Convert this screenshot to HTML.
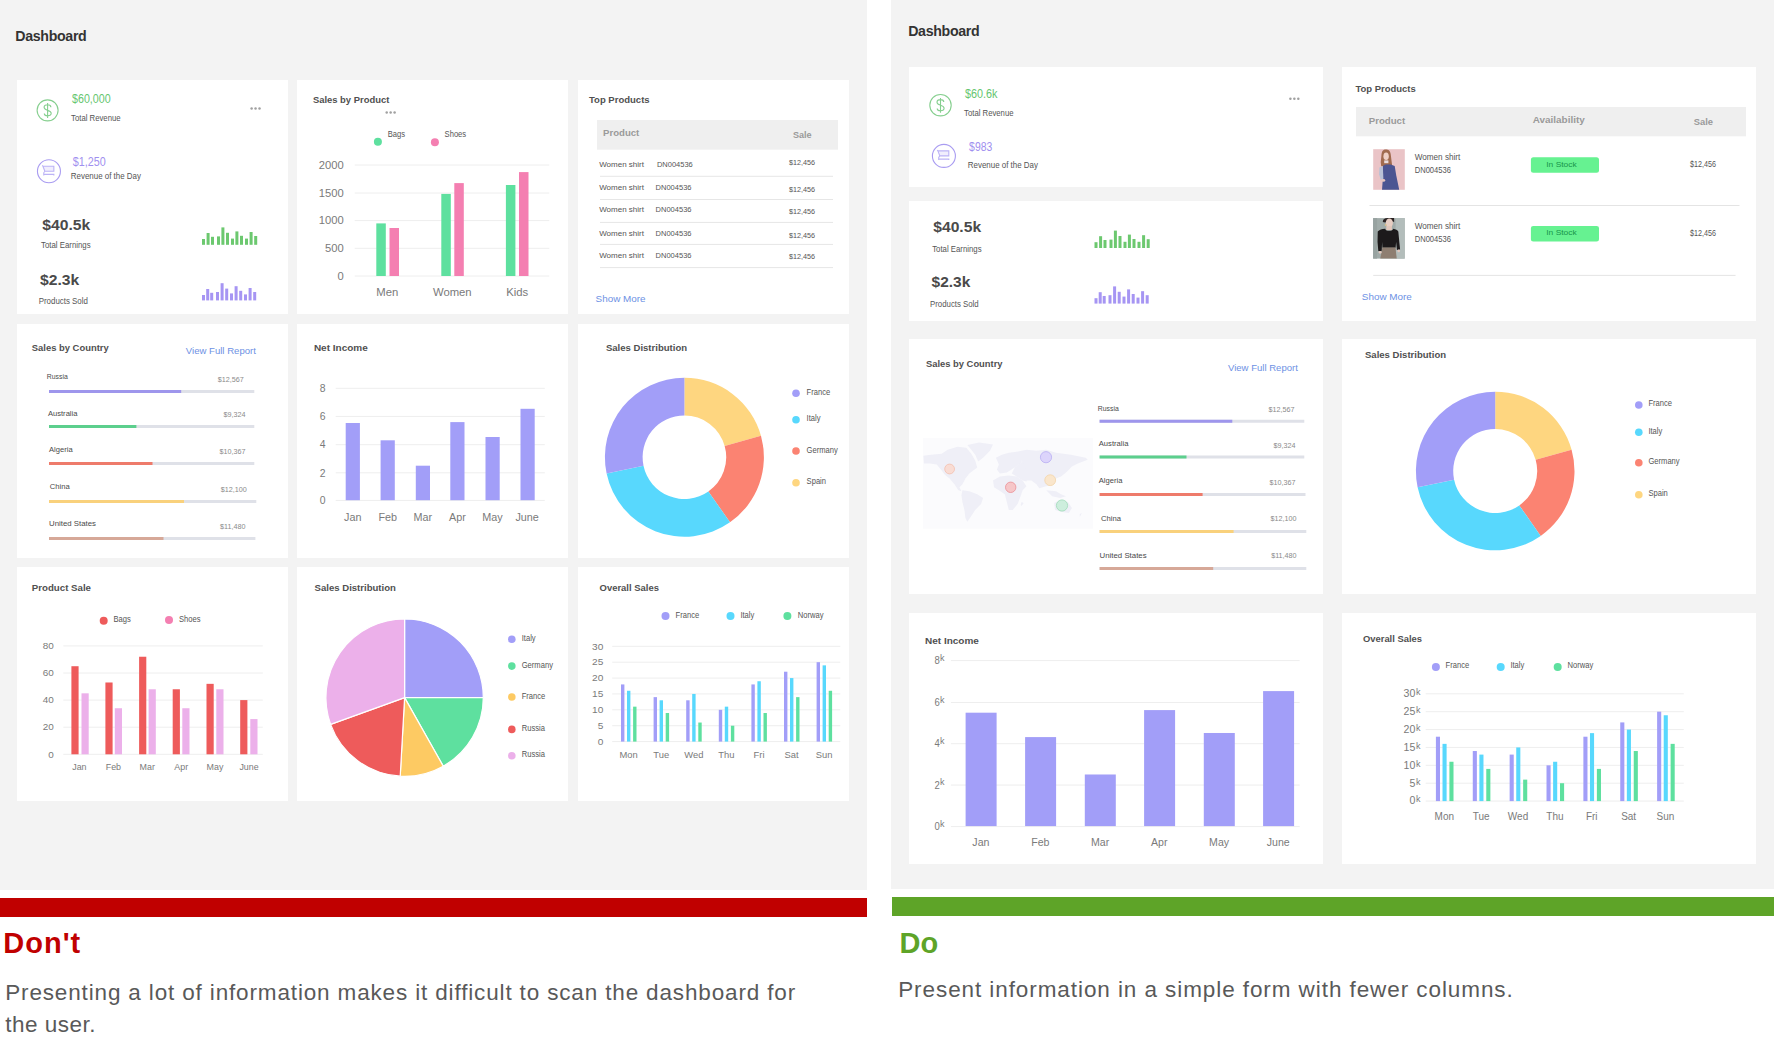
<!DOCTYPE html>
<html lang="en"><head><meta charset="utf-8"><title>Dashboard - Don't / Do</title>
<style>
*{margin:0;padding:0;box-sizing:border-box}
html,body{width:1774px;height:1062px;overflow:hidden;background:#fff}
body{position:relative;font-family:'Liberation Sans', Arial, sans-serif}
svg{display:block;overflow:hidden;font-family:'Liberation Sans', Arial, sans-serif}
.panel{position:absolute;background:#f3f3f3}
.card{position:absolute;background:#fff}
.ptitle{position:absolute;font-weight:700;color:#333;font-size:14.2px;line-height:1;letter-spacing:-0.33px;white-space:nowrap}
.bar{position:absolute;height:18px}
.verdict{position:absolute;font-weight:700;font-size:29px;line-height:1;letter-spacing:1px;white-space:nowrap}
.desc{position:absolute;color:#595959;font-size:22.5px;line-height:32.3px;letter-spacing:0.85px;white-space:nowrap}
</style></head>
<body>
<div class="panel" style="left:0;top:0;width:867px;height:889.7px"></div>
<div class="panel" style="left:891px;top:0;width:883px;height:889px"></div>
<div class="ptitle" style="left:15.3px;top:29.3px">Dashboard</div>
<div class="ptitle" style="left:908.2px;top:24.3px">Dashboard</div>
<div class="card" style="left:17px;top:80px;width:271.0px;height:234.0px"><svg width="271.0" height="234.0" viewBox="17 80 271.0 234.0"><circle cx="47.60" cy="110.35" r="10.50" fill="none" stroke="#86cf8f" stroke-width="1.1"/><path transform="translate(47.60,110.35)" d="M3.3,-3.2 C3.3,-5 1.8,-5.6 0,-5.6 C-2,-5.6 -3.5,-4.6 -3.5,-3 C-3.5,-1 -1.5,-0.5 0,0 C2,0.6 3.6,1.2 3.6,3 C3.6,4.7 2,5.5 0,5.5 C-1.8,5.5 -3.3,4.8 -3.3,3.2 M0,-7.3 L0,7.6" fill="none" stroke="#86cf8f" stroke-width="1.1"/><text x="72.00" y="103.00" font-size="12.4" fill="#66c66f" textLength="38.6" lengthAdjust="spacingAndGlyphs">$60,000</text><text x="71.10" y="121.00" font-size="8.7" fill="#555555" textLength="49.5" lengthAdjust="spacingAndGlyphs">Total Revenue</text><circle cx="251.60" cy="108.50" r="1.25" fill="#a0a0a0"/><circle cx="255.55" cy="108.50" r="1.25" fill="#a0a0a0"/><circle cx="259.50" cy="108.50" r="1.25" fill="#a0a0a0"/><circle cx="48.95" cy="171.20" r="11.50" fill="none" stroke="#a99cf1" stroke-width="1.1"/><g transform="translate(48.95,171.20)"><path d="M-6,-5 L4.9,-5 L4.9,0 L-4.1,0 Z" fill="#f1eefd"/><path d="M-6.7,-5.8 L-6.0,-5.0 L4.9,-5.0 L4.9,0 L-4.0,0 M-6.0,-5.0 L-4.1,0 L-5.2,1.6 L-5.2,4.2 M-5.2,3.2 L4.9,3.2 L4.9,4.2" fill="none" stroke="#bcb3f6" stroke-width="1.1"/></g><text x="72.80" y="166.20" font-size="12.4" fill="#9f90ef" textLength="33" lengthAdjust="spacingAndGlyphs">$1,250</text><text x="70.80" y="178.90" font-size="8.7" fill="#555555" textLength="70.2" lengthAdjust="spacingAndGlyphs">Revenue of the Day</text><text x="42.30" y="229.50" font-size="15.4" fill="#4a4a4a" font-weight="700" textLength="48" lengthAdjust="spacingAndGlyphs">$40.5k</text><text x="41.00" y="247.80" font-size="8.7" fill="#555555" textLength="49.6" lengthAdjust="spacingAndGlyphs">Total Earnings</text><rect x="202.00" y="239.00" width="3.00" height="5.80" fill="#6cc86f"/><rect x="206.60" y="233.00" width="3.00" height="11.80" fill="#6cc86f"/><rect x="211.00" y="236.80" width="3.00" height="8.00" fill="#6cc86f"/><rect x="217.00" y="236.40" width="3.00" height="8.40" fill="#6cc86f"/><rect x="221.40" y="227.40" width="3.00" height="17.40" fill="#6cc86f"/><rect x="226.00" y="232.80" width="3.00" height="12.00" fill="#6cc86f"/><rect x="231.00" y="238.60" width="3.00" height="6.20" fill="#6cc86f"/><rect x="235.40" y="231.40" width="3.00" height="13.40" fill="#6cc86f"/><rect x="240.00" y="235.80" width="3.00" height="9.00" fill="#6cc86f"/><rect x="245.00" y="238.60" width="3.00" height="6.20" fill="#6cc86f"/><rect x="249.60" y="232.00" width="3.00" height="12.80" fill="#6cc86f"/><rect x="254.20" y="236.00" width="3.00" height="8.80" fill="#6cc86f"/><text x="40.00" y="284.90" font-size="15.4" fill="#4a4a4a" font-weight="700" textLength="39.2" lengthAdjust="spacingAndGlyphs">$2.3k</text><text x="38.70" y="303.90" font-size="8.7" fill="#555555" textLength="49.2" lengthAdjust="spacingAndGlyphs">Products Sold</text><rect x="202.00" y="295.00" width="3.00" height="5.40" fill="#a695f3"/><rect x="206.20" y="289.00" width="3.00" height="11.40" fill="#a695f3"/><rect x="210.20" y="292.80" width="3.00" height="7.60" fill="#a695f3"/><rect x="216.00" y="292.00" width="3.00" height="8.40" fill="#a695f3"/><rect x="220.60" y="283.20" width="3.00" height="17.20" fill="#a695f3"/><rect x="225.20" y="288.60" width="3.00" height="11.80" fill="#a695f3"/><rect x="230.00" y="293.40" width="3.00" height="7.00" fill="#a695f3"/><rect x="234.60" y="286.20" width="3.00" height="14.20" fill="#a695f3"/><rect x="239.20" y="290.80" width="3.00" height="9.60" fill="#a695f3"/><rect x="244.00" y="294.40" width="3.00" height="6.00" fill="#a695f3"/><rect x="248.60" y="288.00" width="3.00" height="12.40" fill="#a695f3"/><rect x="253.20" y="292.00" width="3.00" height="8.40" fill="#a695f3"/></svg></div>
<div class="card" style="left:297px;top:80px;width:271.0px;height:234.0px"><svg width="271.0" height="234.0" viewBox="297 80 271.0 234.0"><text x="312.90" y="102.90" font-size="9.4" fill="#505050" font-weight="700" textLength="76.4" lengthAdjust="spacingAndGlyphs">Sales by Product</text><circle cx="386.70" cy="112.50" r="1.25" fill="#a0a0a0"/><circle cx="390.65" cy="112.50" r="1.25" fill="#a0a0a0"/><circle cx="394.60" cy="112.50" r="1.25" fill="#a0a0a0"/><circle cx="377.90" cy="141.70" r="4.00" fill="#5ee09f"/><text x="387.80" y="136.80" font-size="8.2" fill="#555555" textLength="17.3220625" lengthAdjust="spacingAndGlyphs">Bags</text><circle cx="434.90" cy="142.30" r="4.00" fill="#f47fb1"/><text x="444.60" y="137.40" font-size="8.2" fill="#555555" textLength="21.548375" lengthAdjust="spacingAndGlyphs">Shoes</text><line x1="354.70" y1="165.00" x2="549.30" y2="165.00" stroke="#eeeeee" stroke-width="1"/><text x="343.70" y="168.70" font-size="10.2" fill="#7a7a7a" text-anchor="end" textLength="24.96" lengthAdjust="spacingAndGlyphs">2000</text><line x1="354.70" y1="193.00" x2="549.30" y2="193.00" stroke="#eeeeee" stroke-width="1"/><text x="343.70" y="196.70" font-size="10.2" fill="#7a7a7a" text-anchor="end" textLength="24.96" lengthAdjust="spacingAndGlyphs">1500</text><line x1="354.70" y1="220.60" x2="549.30" y2="220.60" stroke="#eeeeee" stroke-width="1"/><text x="343.70" y="224.30" font-size="10.2" fill="#7a7a7a" text-anchor="end" textLength="24.96" lengthAdjust="spacingAndGlyphs">1000</text><line x1="354.70" y1="248.30" x2="549.30" y2="248.30" stroke="#eeeeee" stroke-width="1"/><text x="343.70" y="252.00" font-size="10.2" fill="#7a7a7a" text-anchor="end" textLength="18.72" lengthAdjust="spacingAndGlyphs">500</text><line x1="354.70" y1="276.00" x2="549.30" y2="276.00" stroke="#eeeeee" stroke-width="1"/><text x="343.70" y="279.70" font-size="10.2" fill="#7a7a7a" text-anchor="end" textLength="6.24" lengthAdjust="spacingAndGlyphs">0</text><rect x="376.30" y="223.40" width="9.50" height="52.60" fill="#5ee09f"/><rect x="389.50" y="228.00" width="9.50" height="48.00" fill="#f47fb1"/><rect x="441.30" y="193.90" width="9.50" height="82.10" fill="#5ee09f"/><rect x="454.30" y="183.10" width="9.50" height="92.90" fill="#f47fb1"/><rect x="505.90" y="185.00" width="9.50" height="91.00" fill="#5ee09f"/><rect x="519.00" y="172.10" width="9.50" height="103.90" fill="#f47fb1"/><text x="387.30" y="296.30" font-size="11.3" fill="#7a7a7a" text-anchor="middle">Men</text><text x="452.30" y="296.30" font-size="11.3" fill="#7a7a7a" text-anchor="middle">Women</text><text x="517.30" y="296.30" font-size="11.3" fill="#7a7a7a" text-anchor="middle">Kids</text></svg></div>
<div class="card" style="left:578px;top:80px;width:271.0px;height:234.0px"><svg width="271.0" height="234.0" viewBox="578 80 271.0 234.0"><text x="589.00" y="102.90" font-size="9.4" fill="#505050" font-weight="700" textLength="60.6" lengthAdjust="spacingAndGlyphs">Top Products</text><rect x="597.00" y="120.00" width="241.00" height="29.70" fill="#efefef"/><text x="603.00" y="135.90" font-size="9.4" fill="#9a9a9a" font-weight="700" textLength="36.3" lengthAdjust="spacingAndGlyphs">Product</text><text x="792.90" y="137.80" font-size="9.4" fill="#9a9a9a" font-weight="700" textLength="18.7" lengthAdjust="spacingAndGlyphs">Sale</text><text x="599.20" y="166.80" font-size="7.8" fill="#555" textLength="44.8" lengthAdjust="spacingAndGlyphs">Women shirt</text><text x="656.90" y="166.80" font-size="7.8" fill="#555" textLength="35.9" lengthAdjust="spacingAndGlyphs">DN004536</text><text x="789.00" y="165.00" font-size="7.8" fill="#555" textLength="26" lengthAdjust="spacingAndGlyphs">$12,456</text><line x1="600.00" y1="176.30" x2="833.00" y2="176.30" stroke="#e6e6e6" stroke-width="1"/><text x="599.20" y="189.90" font-size="7.8" fill="#555" textLength="44.8" lengthAdjust="spacingAndGlyphs">Women shirt</text><text x="655.60" y="189.90" font-size="7.8" fill="#555" textLength="35.9" lengthAdjust="spacingAndGlyphs">DN004536</text><text x="789.00" y="191.70" font-size="7.8" fill="#555" textLength="26" lengthAdjust="spacingAndGlyphs">$12,456</text><line x1="600.00" y1="199.50" x2="833.00" y2="199.50" stroke="#e6e6e6" stroke-width="1"/><text x="599.20" y="212.00" font-size="7.8" fill="#555" textLength="44.8" lengthAdjust="spacingAndGlyphs">Women shirt</text><text x="655.60" y="212.00" font-size="7.8" fill="#555" textLength="35.9" lengthAdjust="spacingAndGlyphs">DN004536</text><text x="789.00" y="213.70" font-size="7.8" fill="#555" textLength="26" lengthAdjust="spacingAndGlyphs">$12,456</text><line x1="600.00" y1="222.40" x2="833.00" y2="222.40" stroke="#e6e6e6" stroke-width="1"/><text x="599.20" y="235.80" font-size="7.8" fill="#555" textLength="44.8" lengthAdjust="spacingAndGlyphs">Women shirt</text><text x="655.60" y="235.80" font-size="7.8" fill="#555" textLength="35.9" lengthAdjust="spacingAndGlyphs">DN004536</text><text x="789.00" y="237.60" font-size="7.8" fill="#555" textLength="26" lengthAdjust="spacingAndGlyphs">$12,456</text><line x1="600.00" y1="244.40" x2="833.00" y2="244.40" stroke="#e6e6e6" stroke-width="1"/><text x="599.20" y="257.80" font-size="7.8" fill="#555" textLength="44.8" lengthAdjust="spacingAndGlyphs">Women shirt</text><text x="655.60" y="257.80" font-size="7.8" fill="#555" textLength="35.9" lengthAdjust="spacingAndGlyphs">DN004536</text><text x="789.00" y="258.70" font-size="7.8" fill="#555" textLength="26" lengthAdjust="spacingAndGlyphs">$12,456</text><line x1="600.00" y1="267.60" x2="833.00" y2="267.60" stroke="#e6e6e6" stroke-width="1"/><text x="595.60" y="302.20" font-size="9.4" fill="#6d91e4" textLength="50" lengthAdjust="spacingAndGlyphs">Show More</text></svg></div>
<div class="card" style="left:17px;top:324px;width:271.0px;height:234.0px"><svg width="271.0" height="234.0" viewBox="17 324 271.0 234.0"><text x="31.80" y="351.00" font-size="9.4" fill="#505050" font-weight="700" textLength="76.9" lengthAdjust="spacingAndGlyphs">Sales by Country</text><text x="185.80" y="353.60" font-size="9.4" fill="#6d91e4" textLength="70.1" lengthAdjust="spacingAndGlyphs">View Full Report</text><text x="46.80" y="379.30" font-size="8.1" fill="#4a4a4a" textLength="21.0" lengthAdjust="spacingAndGlyphs">Russia</text><text x="243.70" y="381.50" font-size="7.2" fill="#8a8a8a" text-anchor="end">$12,567</text><line x1="49.00" y1="391.50" x2="254.30" y2="391.50" stroke="#dfe1e8" stroke-width="3"/><line x1="49.00" y1="391.50" x2="181.20" y2="391.50" stroke="#9e96ec" stroke-width="3"/><text x="47.90" y="415.50" font-size="8.1" fill="#4a4a4a" textLength="29.6" lengthAdjust="spacingAndGlyphs">Australia</text><text x="245.50" y="416.60" font-size="7.2" fill="#8a8a8a" text-anchor="end">$9,324</text><line x1="49.00" y1="426.50" x2="254.30" y2="426.50" stroke="#dfe1e8" stroke-width="3"/><line x1="49.00" y1="426.50" x2="136.40" y2="426.50" stroke="#5ccf8d" stroke-width="3"/><text x="49.00" y="452.20" font-size="8.1" fill="#4a4a4a" textLength="23.6" lengthAdjust="spacingAndGlyphs">Algeria</text><text x="245.50" y="453.90" font-size="7.2" fill="#8a8a8a" text-anchor="end">$10,367</text><line x1="49.00" y1="463.50" x2="254.30" y2="463.50" stroke="#dfe1e8" stroke-width="3"/><line x1="49.00" y1="463.50" x2="152.50" y2="463.50" stroke="#ee7b6b" stroke-width="3"/><text x="49.80" y="488.90" font-size="8.1" fill="#4a4a4a" textLength="20.0" lengthAdjust="spacingAndGlyphs">China</text><text x="246.70" y="491.80" font-size="7.2" fill="#8a8a8a" text-anchor="end">$12,100</text><line x1="49.00" y1="501.40" x2="256.30" y2="501.40" stroke="#dfe1e8" stroke-width="3"/><line x1="49.00" y1="501.40" x2="184.00" y2="501.40" stroke="#f9d17c" stroke-width="3"/><text x="49.00" y="525.70" font-size="8.1" fill="#4a4a4a" textLength="47.0" lengthAdjust="spacingAndGlyphs">United States</text><text x="245.50" y="528.60" font-size="7.2" fill="#8a8a8a" text-anchor="end">$11,480</text><line x1="49.00" y1="538.60" x2="255.40" y2="538.60" stroke="#dfe1e8" stroke-width="3"/><line x1="49.00" y1="538.60" x2="163.50" y2="538.60" stroke="#d6a898" stroke-width="3"/></svg></div>
<div class="card" style="left:297px;top:324px;width:271.0px;height:234.0px"><svg width="271.0" height="234.0" viewBox="297 324 271.0 234.0"><text x="313.90" y="351.00" font-size="9.4" fill="#505050" font-weight="700" textLength="53.9" lengthAdjust="spacingAndGlyphs">Net Income</text><line x1="335.70" y1="388.30" x2="544.80" y2="388.30" stroke="#eeeeee" stroke-width="1"/><text x="325.50" y="392.00" font-size="10.4" fill="#7a7a7a" text-anchor="end">8</text><line x1="335.70" y1="416.40" x2="544.80" y2="416.40" stroke="#eeeeee" stroke-width="1"/><text x="325.50" y="420.10" font-size="10.4" fill="#7a7a7a" text-anchor="end">6</text><line x1="335.70" y1="444.70" x2="544.80" y2="444.70" stroke="#eeeeee" stroke-width="1"/><text x="325.50" y="448.40" font-size="10.4" fill="#7a7a7a" text-anchor="end">4</text><line x1="335.70" y1="472.80" x2="544.80" y2="472.80" stroke="#eeeeee" stroke-width="1"/><text x="325.50" y="476.50" font-size="10.4" fill="#7a7a7a" text-anchor="end">2</text><line x1="335.70" y1="500.40" x2="544.80" y2="500.40" stroke="#eeeeee" stroke-width="1"/><text x="325.50" y="504.10" font-size="10.4" fill="#7a7a7a" text-anchor="end">0</text><rect x="345.70" y="423.00" width="14.20" height="77.20" fill="#a29ef8"/><text x="352.80" y="520.90" font-size="10.8" fill="#7a7a7a" text-anchor="middle">Jan</text><rect x="380.60" y="440.30" width="14.20" height="59.90" fill="#a29ef8"/><text x="387.70" y="520.90" font-size="10.8" fill="#7a7a7a" text-anchor="middle">Feb</text><rect x="415.80" y="465.70" width="14.20" height="34.50" fill="#a29ef8"/><text x="422.70" y="520.90" font-size="10.8" fill="#7a7a7a" text-anchor="middle">Mar</text><rect x="450.30" y="422.10" width="14.20" height="78.10" fill="#a29ef8"/><text x="457.40" y="520.90" font-size="10.8" fill="#7a7a7a" text-anchor="middle">Apr</text><rect x="485.50" y="437.00" width="14.20" height="63.20" fill="#a29ef8"/><text x="492.40" y="520.90" font-size="10.8" fill="#7a7a7a" text-anchor="middle">May</text><rect x="520.50" y="408.80" width="14.20" height="91.40" fill="#a29ef8"/><text x="527.10" y="520.90" font-size="10.8" fill="#7a7a7a" text-anchor="middle">June</text></svg></div>
<div class="card" style="left:578px;top:324px;width:271.0px;height:234.0px"><svg width="271.0" height="234.0" viewBox="578 324 271.0 234.0"><text x="605.90" y="351.00" font-size="9.4" fill="#505050" font-weight="700" textLength="81.2" lengthAdjust="spacingAndGlyphs">Sales Distribution</text><path d="M684.40,377.70 A79.5,79.5 0 0 1 760.97,435.82 L724.66,445.96 A41.8,41.8 0 0 0 684.40,415.40 Z" fill="#fed680"/><path d="M760.97,435.82 A79.5,79.5 0 0 1 730.00,522.32 L708.38,491.44 A41.8,41.8 0 0 0 724.66,445.96 Z" fill="#fb8372"/><path d="M730.00,522.32 A79.5,79.5 0 0 1 606.61,473.59 L643.50,465.82 A41.8,41.8 0 0 0 708.38,491.44 Z" fill="#58d8fd"/><path d="M606.61,473.59 A79.5,79.5 0 0 1 684.40,377.70 L684.40,415.40 A41.8,41.8 0 0 0 643.50,465.82 Z" fill="#a29ef8"/><circle cx="796.00" cy="393.20" r="3.80" fill="#a29ef8"/><text x="806.60" y="394.70" font-size="8.2" fill="#555555" textLength="23.651437499999997" lengthAdjust="spacingAndGlyphs">France</text><circle cx="796.00" cy="419.70" r="3.80" fill="#58d8fd"/><text x="806.60" y="421.20" font-size="8.2" fill="#555555" textLength="13.9376875" lengthAdjust="spacingAndGlyphs">Italy</text><circle cx="796.00" cy="451.00" r="3.80" fill="#fb8372"/><text x="806.60" y="452.50" font-size="8.2" fill="#555555" textLength="31.251437499999998" lengthAdjust="spacingAndGlyphs">Germany</text><circle cx="796.00" cy="482.80" r="3.80" fill="#fed680"/><text x="806.60" y="484.30" font-size="8.2" fill="#555555" textLength="19.436999999999998" lengthAdjust="spacingAndGlyphs">Spain</text></svg></div>
<div class="card" style="left:17px;top:567px;width:271.0px;height:234.0px"><svg width="271.0" height="234.0" viewBox="17 567 271.0 234.0"><text x="31.80" y="590.90" font-size="9.4" fill="#505050" font-weight="700" textLength="59.2" lengthAdjust="spacingAndGlyphs">Product Sale</text><circle cx="103.70" cy="620.80" r="4.00" fill="#ee5b5b"/><text x="113.40" y="621.80" font-size="8.2" fill="#555555" textLength="17.3220625" lengthAdjust="spacingAndGlyphs">Bags</text><circle cx="169.00" cy="619.90" r="4.00" fill="#f47fb1"/><text x="178.90" y="621.80" font-size="8.2" fill="#555555" textLength="21.548375" lengthAdjust="spacingAndGlyphs">Shoes</text><line x1="63.30" y1="645.90" x2="262.80" y2="645.90" stroke="#eeeeee" stroke-width="1"/><text x="53.90" y="649.10" font-size="9.2" fill="#7a7a7a" text-anchor="end" textLength="11.05" lengthAdjust="spacingAndGlyphs">80</text><line x1="63.30" y1="673.00" x2="262.80" y2="673.00" stroke="#eeeeee" stroke-width="1"/><text x="53.90" y="676.20" font-size="9.2" fill="#7a7a7a" text-anchor="end" textLength="11.05" lengthAdjust="spacingAndGlyphs">60</text><line x1="63.30" y1="700.10" x2="262.80" y2="700.10" stroke="#eeeeee" stroke-width="1"/><text x="53.90" y="703.30" font-size="9.2" fill="#7a7a7a" text-anchor="end" textLength="11.05" lengthAdjust="spacingAndGlyphs">40</text><line x1="63.30" y1="727.20" x2="262.80" y2="727.20" stroke="#eeeeee" stroke-width="1"/><text x="53.90" y="730.40" font-size="9.2" fill="#7a7a7a" text-anchor="end" textLength="11.05" lengthAdjust="spacingAndGlyphs">20</text><line x1="63.30" y1="754.30" x2="262.80" y2="754.30" stroke="#eeeeee" stroke-width="1"/><text x="53.90" y="757.50" font-size="9.2" fill="#7a7a7a" text-anchor="end" textLength="5.53" lengthAdjust="spacingAndGlyphs">0</text><rect x="71.40" y="666.22" width="7.20" height="88.07" fill="#ee5b5b"/><rect x="81.50" y="693.32" width="7.20" height="60.97" fill="#ecb0ea"/><text x="79.40" y="770.40" font-size="8.9" fill="#7a7a7a" text-anchor="middle">Jan</text><rect x="105.40" y="682.49" width="7.20" height="71.81" fill="#ee5b5b"/><rect x="114.80" y="708.23" width="7.20" height="46.07" fill="#ecb0ea"/><text x="113.40" y="770.40" font-size="8.9" fill="#7a7a7a" text-anchor="middle">Feb</text><rect x="139.10" y="656.74" width="7.20" height="97.56" fill="#ee5b5b"/><rect x="148.60" y="689.26" width="7.20" height="65.04" fill="#ecb0ea"/><text x="147.20" y="770.40" font-size="8.9" fill="#7a7a7a" text-anchor="middle">Mar</text><rect x="172.70" y="689.26" width="7.20" height="65.04" fill="#ee5b5b"/><rect x="182.30" y="708.23" width="7.20" height="46.07" fill="#ecb0ea"/><text x="181.20" y="770.40" font-size="8.9" fill="#7a7a7a" text-anchor="middle">Apr</text><rect x="206.50" y="683.84" width="7.20" height="70.46" fill="#ee5b5b"/><rect x="216.30" y="689.26" width="7.20" height="65.04" fill="#ecb0ea"/><text x="215.00" y="770.40" font-size="8.9" fill="#7a7a7a" text-anchor="middle">May</text><rect x="240.20" y="700.10" width="7.20" height="54.20" fill="#ee5b5b"/><rect x="250.30" y="719.07" width="7.20" height="35.23" fill="#ecb0ea"/><text x="249.00" y="770.40" font-size="8.9" fill="#7a7a7a" text-anchor="middle">June</text></svg></div>
<div class="card" style="left:297px;top:567px;width:271.0px;height:234.0px"><svg width="271.0" height="234.0" viewBox="297 567 271.0 234.0"><text x="314.60" y="590.90" font-size="9.4" fill="#505050" font-weight="700" textLength="81.3" lengthAdjust="spacingAndGlyphs">Sales Distribution</text><path d="M404.60,697.60 L404.60,618.90 A78.7,78.7 0 0 1 483.30,697.60 Z" fill="#a29ef8" stroke="#fff" stroke-width="1.2" stroke-linejoin="round"/><path d="M404.60,697.60 L483.30,697.60 A78.7,78.7 0 0 1 443.23,766.16 Z" fill="#5ee09f" stroke="#fff" stroke-width="1.2" stroke-linejoin="round"/><path d="M404.60,697.60 L443.23,766.16 A78.7,78.7 0 0 1 400.21,776.18 Z" fill="#fdca63" stroke="#fff" stroke-width="1.2" stroke-linejoin="round"/><path d="M404.60,697.60 L400.21,776.18 A78.7,78.7 0 0 1 330.60,724.39 Z" fill="#ee5b5b" stroke="#fff" stroke-width="1.2" stroke-linejoin="round"/><path d="M404.60,697.60 L330.60,724.39 A78.7,78.7 0 0 1 404.60,618.90 Z" fill="#ecb0ea" stroke="#fff" stroke-width="1.2" stroke-linejoin="round"/><circle cx="511.80" cy="639.30" r="3.80" fill="#a29ef8"/><text x="521.70" y="640.80" font-size="8.2" fill="#555555" textLength="13.9376875" lengthAdjust="spacingAndGlyphs">Italy</text><circle cx="511.80" cy="666.10" r="3.80" fill="#5ee09f"/><text x="521.70" y="667.60" font-size="8.2" fill="#555555" textLength="31.251437499999998" lengthAdjust="spacingAndGlyphs">Germany</text><circle cx="511.80" cy="697.00" r="3.80" fill="#fdca63"/><text x="521.70" y="698.50" font-size="8.2" fill="#555555" textLength="23.651437499999997" lengthAdjust="spacingAndGlyphs">France</text><circle cx="511.80" cy="729.40" r="3.80" fill="#ee5b5b"/><text x="521.70" y="730.90" font-size="8.2" fill="#555555" textLength="23.229874999999996" lengthAdjust="spacingAndGlyphs">Russia</text><circle cx="511.80" cy="755.80" r="3.80" fill="#ecb0ea"/><text x="521.70" y="757.30" font-size="8.2" fill="#555555" textLength="23.229874999999996" lengthAdjust="spacingAndGlyphs">Russia</text></svg></div>
<div class="card" style="left:578px;top:567px;width:271.0px;height:234.0px"><svg width="271.0" height="234.0" viewBox="578 567 271.0 234.0"><text x="599.60" y="590.90" font-size="9.4" fill="#505050" font-weight="700" textLength="59.3" lengthAdjust="spacingAndGlyphs">Overall Sales</text><circle cx="665.50" cy="615.90" r="4.00" fill="#a29ef8"/><text x="675.60" y="617.90" font-size="8.2" fill="#555555" textLength="23.651437499999997" lengthAdjust="spacingAndGlyphs">France</text><circle cx="730.50" cy="615.90" r="4.00" fill="#58d8fd"/><text x="740.40" y="617.90" font-size="8.2" fill="#555555" textLength="13.9376875" lengthAdjust="spacingAndGlyphs">Italy</text><circle cx="787.40" cy="615.90" r="4.00" fill="#5ee09f"/><text x="797.70" y="617.90" font-size="8.2" fill="#555555" textLength="25.7604375" lengthAdjust="spacingAndGlyphs">Norway</text><line x1="612.20" y1="646.30" x2="840.30" y2="646.30" stroke="#eeeeee" stroke-width="1"/><text x="603.40" y="649.60" font-size="9.2" fill="#7a7a7a" text-anchor="end" textLength="11.26" lengthAdjust="spacingAndGlyphs">30</text><line x1="612.20" y1="662.18" x2="840.30" y2="662.18" stroke="#eeeeee" stroke-width="1"/><text x="603.40" y="665.48" font-size="9.2" fill="#7a7a7a" text-anchor="end" textLength="11.26" lengthAdjust="spacingAndGlyphs">25</text><line x1="612.20" y1="678.07" x2="840.30" y2="678.07" stroke="#eeeeee" stroke-width="1"/><text x="603.40" y="681.37" font-size="9.2" fill="#7a7a7a" text-anchor="end" textLength="11.26" lengthAdjust="spacingAndGlyphs">20</text><line x1="612.20" y1="693.95" x2="840.30" y2="693.95" stroke="#eeeeee" stroke-width="1"/><text x="603.40" y="697.25" font-size="9.2" fill="#7a7a7a" text-anchor="end" textLength="11.26" lengthAdjust="spacingAndGlyphs">15</text><line x1="612.20" y1="709.83" x2="840.30" y2="709.83" stroke="#eeeeee" stroke-width="1"/><text x="603.40" y="713.13" font-size="9.2" fill="#7a7a7a" text-anchor="end" textLength="11.26" lengthAdjust="spacingAndGlyphs">10</text><line x1="612.20" y1="725.72" x2="840.30" y2="725.72" stroke="#eeeeee" stroke-width="1"/><text x="603.40" y="729.02" font-size="9.2" fill="#7a7a7a" text-anchor="end" textLength="5.63" lengthAdjust="spacingAndGlyphs">5</text><line x1="612.20" y1="741.60" x2="840.30" y2="741.60" stroke="#eeeeee" stroke-width="1"/><text x="603.40" y="744.90" font-size="9.2" fill="#7a7a7a" text-anchor="end" textLength="5.63" lengthAdjust="spacingAndGlyphs">0</text><rect x="621.00" y="684.42" width="3.40" height="57.18" fill="#a29ef8"/><rect x="627.00" y="690.77" width="3.40" height="50.83" fill="#58d8fd"/><rect x="633.10" y="706.66" width="3.40" height="34.94" fill="#5ee09f"/><text x="628.70" y="758.30" font-size="9.4" fill="#7a7a7a" text-anchor="middle">Mon</text><rect x="653.60" y="697.13" width="3.40" height="44.47" fill="#a29ef8"/><rect x="659.60" y="700.30" width="3.40" height="41.30" fill="#58d8fd"/><rect x="665.70" y="713.01" width="3.40" height="28.59" fill="#5ee09f"/><text x="661.28" y="758.30" font-size="9.4" fill="#7a7a7a" text-anchor="middle">Tue</text><rect x="686.20" y="700.30" width="3.40" height="41.30" fill="#a29ef8"/><rect x="692.20" y="693.95" width="3.40" height="47.65" fill="#58d8fd"/><rect x="698.30" y="722.54" width="3.40" height="19.06" fill="#5ee09f"/><text x="693.86" y="758.30" font-size="9.4" fill="#7a7a7a" text-anchor="middle">Wed</text><rect x="718.80" y="709.83" width="3.40" height="31.77" fill="#a29ef8"/><rect x="724.80" y="706.66" width="3.40" height="34.94" fill="#58d8fd"/><rect x="730.90" y="725.72" width="3.40" height="15.88" fill="#5ee09f"/><text x="726.44" y="758.30" font-size="9.4" fill="#7a7a7a" text-anchor="middle">Thu</text><rect x="751.40" y="684.42" width="3.40" height="57.18" fill="#a29ef8"/><rect x="757.40" y="681.24" width="3.40" height="60.36" fill="#58d8fd"/><rect x="763.50" y="713.01" width="3.40" height="28.59" fill="#5ee09f"/><text x="759.02" y="758.30" font-size="9.4" fill="#7a7a7a" text-anchor="middle">Fri</text><rect x="784.00" y="671.71" width="3.40" height="69.89" fill="#a29ef8"/><rect x="790.00" y="678.07" width="3.40" height="63.53" fill="#58d8fd"/><rect x="796.10" y="697.13" width="3.40" height="44.47" fill="#5ee09f"/><text x="791.60" y="758.30" font-size="9.4" fill="#7a7a7a" text-anchor="middle">Sat</text><rect x="816.60" y="662.18" width="3.40" height="79.42" fill="#a29ef8"/><rect x="822.60" y="665.36" width="3.40" height="76.24" fill="#58d8fd"/><rect x="828.70" y="690.77" width="3.40" height="50.83" fill="#5ee09f"/><text x="824.18" y="758.30" font-size="9.4" fill="#7a7a7a" text-anchor="middle">Sun</text></svg></div>
<div class="card" style="left:909px;top:67px;width:414.0px;height:119.5px"><svg width="414.0" height="119.5" viewBox="909 67 414.0 119.5"><circle cx="940.50" cy="105.20" r="10.70" fill="none" stroke="#86cf8f" stroke-width="1.1"/><path transform="translate(940.50,105.20)" d="M3.3,-3.2 C3.3,-5 1.8,-5.6 0,-5.6 C-2,-5.6 -3.5,-4.6 -3.5,-3 C-3.5,-1 -1.5,-0.5 0,0 C2,0.6 3.6,1.2 3.6,3 C3.6,4.7 2,5.5 0,5.5 C-1.8,5.5 -3.3,4.8 -3.3,3.2 M0,-7.3 L0,7.6" fill="none" stroke="#86cf8f" stroke-width="1.1"/><text x="965.00" y="97.70" font-size="12.4" fill="#66c66f" textLength="32.5" lengthAdjust="spacingAndGlyphs">$60.6k</text><text x="964.10" y="115.80" font-size="8.7" fill="#555555" textLength="49.4" lengthAdjust="spacingAndGlyphs">Total Revenue</text><circle cx="1290.40" cy="98.80" r="1.25" fill="#a0a0a0"/><circle cx="1294.35" cy="98.80" r="1.25" fill="#a0a0a0"/><circle cx="1298.30" cy="98.80" r="1.25" fill="#a0a0a0"/><circle cx="943.90" cy="155.90" r="11.50" fill="none" stroke="#a99cf1" stroke-width="1.1"/><g transform="translate(943.90,155.90)"><path d="M-6,-5 L4.9,-5 L4.9,0 L-4.1,0 Z" fill="#f1eefd"/><path d="M-6.7,-5.8 L-6.0,-5.0 L4.9,-5.0 L4.9,0 L-4.0,0 M-6.0,-5.0 L-4.1,0 L-5.2,1.6 L-5.2,4.2 M-5.2,3.2 L4.9,3.2 L4.9,4.2" fill="none" stroke="#bcb3f6" stroke-width="1.1"/></g><text x="969.10" y="150.60" font-size="12.4" fill="#9f90ef" textLength="23.2" lengthAdjust="spacingAndGlyphs">$983</text><text x="967.80" y="168.00" font-size="8.7" fill="#555555" textLength="70.2" lengthAdjust="spacingAndGlyphs">Revenue of the Day</text></svg></div>
<div class="card" style="left:909px;top:201px;width:414.0px;height:119.7px"><svg width="414.0" height="119.7" viewBox="909 201 414.0 119.7"><text x="933.30" y="232.40" font-size="15.4" fill="#4a4a4a" font-weight="700" textLength="47.8" lengthAdjust="spacingAndGlyphs">$40.5k</text><text x="932.20" y="251.70" font-size="8.7" fill="#555555" textLength="49.4" lengthAdjust="spacingAndGlyphs">Total Earnings</text><rect x="1094.50" y="242.20" width="3.00" height="5.80" fill="#6cc86f"/><rect x="1099.10" y="236.20" width="3.00" height="11.80" fill="#6cc86f"/><rect x="1103.50" y="240.00" width="3.00" height="8.00" fill="#6cc86f"/><rect x="1109.50" y="239.60" width="3.00" height="8.40" fill="#6cc86f"/><rect x="1113.90" y="230.60" width="3.00" height="17.40" fill="#6cc86f"/><rect x="1118.50" y="236.00" width="3.00" height="12.00" fill="#6cc86f"/><rect x="1123.50" y="241.80" width="3.00" height="6.20" fill="#6cc86f"/><rect x="1127.90" y="234.60" width="3.00" height="13.40" fill="#6cc86f"/><rect x="1132.50" y="239.00" width="3.00" height="9.00" fill="#6cc86f"/><rect x="1137.50" y="241.80" width="3.00" height="6.20" fill="#6cc86f"/><rect x="1142.10" y="235.20" width="3.00" height="12.80" fill="#6cc86f"/><rect x="1146.70" y="239.20" width="3.00" height="8.80" fill="#6cc86f"/><text x="931.60" y="287.40" font-size="15.4" fill="#4a4a4a" font-weight="700" textLength="38.7" lengthAdjust="spacingAndGlyphs">$2.3k</text><text x="930.00" y="306.80" font-size="8.7" fill="#555555" textLength="48.7" lengthAdjust="spacingAndGlyphs">Products Sold</text><rect x="1094.50" y="298.20" width="3.00" height="5.40" fill="#a695f3"/><rect x="1098.70" y="292.20" width="3.00" height="11.40" fill="#a695f3"/><rect x="1102.70" y="296.00" width="3.00" height="7.60" fill="#a695f3"/><rect x="1108.50" y="295.20" width="3.00" height="8.40" fill="#a695f3"/><rect x="1113.10" y="286.40" width="3.00" height="17.20" fill="#a695f3"/><rect x="1117.70" y="291.80" width="3.00" height="11.80" fill="#a695f3"/><rect x="1122.50" y="296.60" width="3.00" height="7.00" fill="#a695f3"/><rect x="1127.10" y="289.40" width="3.00" height="14.20" fill="#a695f3"/><rect x="1131.70" y="294.00" width="3.00" height="9.60" fill="#a695f3"/><rect x="1136.50" y="297.60" width="3.00" height="6.00" fill="#a695f3"/><rect x="1141.10" y="291.20" width="3.00" height="12.40" fill="#a695f3"/><rect x="1145.70" y="295.20" width="3.00" height="8.40" fill="#a695f3"/></svg></div>
<div class="card" style="left:1342px;top:67px;width:414.0px;height:253.7px"><svg width="414.0" height="253.7" viewBox="1342 67 414.0 253.7"><text x="1355.40" y="91.80" font-size="9.4" fill="#505050" font-weight="700" textLength="60.4" lengthAdjust="spacingAndGlyphs">Top Products</text><rect x="1356.00" y="107.00" width="390.00" height="29.30" fill="#efefef"/><text x="1368.70" y="124.00" font-size="9.4" fill="#9a9a9a" font-weight="700" textLength="36.5" lengthAdjust="spacingAndGlyphs">Product</text><text x="1532.70" y="123.20" font-size="9.4" fill="#9a9a9a" font-weight="700" textLength="52.1" lengthAdjust="spacingAndGlyphs">Availability</text><text x="1693.70" y="125.00" font-size="9.4" fill="#9a9a9a" font-weight="700" textLength="19.3" lengthAdjust="spacingAndGlyphs">Sale</text><g transform="translate(1373.20,149.20)"><rect x="0.00" y="0.00" width="31.60" height="40.60" fill="#eac4c7"/><path d="M8.2,6.5 C8.5,1.5 10,0.2 12.5,0.2 C15.5,0.2 17,1.5 17.5,5 L18.5,13 L19,17 L8,17 L7.5,13 Z" fill="#a06b4f"/><ellipse cx="12.9" cy="7.0" rx="2.7" ry="3.8" fill="#eed0c6"/><rect x="11" y="11.2" width="4.2" height="2.8" fill="#e7dcdf"/><path d="M9.5,16.8 L12.5,15.2 L17.5,15.2 L21.5,16.8 L23,26 L26,40.6 L8.8,40.6 L9.6,30 Z" fill="#4b5592"/><path d="M6.2,18.2 L9.6,16.8 L10.2,29.5 L7.6,30.8 L5.9,25 Z" fill="#b9c1d6"/><ellipse cx="10" cy="31.2" rx="2.1" ry="1.3" fill="#e6c6c0"/></g><g transform="translate(1373.10,218.10)"><rect x="0.00" y="0.00" width="31.60" height="40.50" fill="#a1acaa"/><rect x="22.50" y="0.00" width="9.10" height="40.50" fill="#b3bdbb"/><rect x="0.00" y="0.00" width="4.00" height="40.50" fill="#98a3a1"/><path d="M9.7,4 C9.7,1 11.5,0 14.5,0 L21,0 L21,4 L18,3 L12,4.5 Z" fill="#2a2222"/><ellipse cx="16.2" cy="5.0" rx="3.6" ry="4.6" fill="#e8cec3"/><rect x="13.2" y="8" width="5.6" height="4" fill="#e2c6ba"/><circle cx="12.60" cy="6.80" r="1.00" fill="#d8c08c"/><path d="M4.6,13.5 C6,11.5 9,10.8 12,10.6 C13,13.5 19,13.5 20.2,10.6 C22.5,11 24.5,11.8 25.2,13.5 L26.2,24 L27,31.5 L23.8,32 L23,24 L22.5,29.6 L9.3,29.6 L9,24 L8.6,33 L5.2,33 L4.4,24 Z" fill="#1c1a1b"/><path d="M9.3,29.3 L22.4,29.3 L23.6,40.5 L7.2,40.5 Z" fill="#8e7e71"/><circle cx="7.00" cy="34.20" r="1.40" fill="#e3c8be"/><circle cx="25.60" cy="32.80" r="1.30" fill="#e3c8be"/></g><text x="1414.70" y="160.00" font-size="8.2" fill="#555" textLength="45.6" lengthAdjust="spacingAndGlyphs">Women shirt</text><text x="1414.70" y="172.90" font-size="8.4" fill="#555" textLength="36.2" lengthAdjust="spacingAndGlyphs">DN004536</text><rect x="1530.90" y="157.20" width="68.10" height="15.60" fill="#66f291" rx="2.5"/><text x="1561.50" y="166.60" font-size="7.6" fill="#17944a" text-anchor="middle" textLength="30.5" lengthAdjust="spacingAndGlyphs">In Stock</text><text x="1689.90" y="167.00" font-size="8.2" fill="#555" textLength="26" lengthAdjust="spacingAndGlyphs">$12,456</text><text x="1414.70" y="229.20" font-size="8.2" fill="#555" textLength="45.6" lengthAdjust="spacingAndGlyphs">Women shirt</text><text x="1414.70" y="242.10" font-size="8.4" fill="#555" textLength="36.2" lengthAdjust="spacingAndGlyphs">DN004536</text><rect x="1530.90" y="226.00" width="68.10" height="15.60" fill="#66f291" rx="2.5"/><text x="1561.50" y="235.40" font-size="7.6" fill="#17944a" text-anchor="middle" textLength="30.5" lengthAdjust="spacingAndGlyphs">In Stock</text><text x="1689.90" y="236.10" font-size="8.2" fill="#555" textLength="26" lengthAdjust="spacingAndGlyphs">$12,456</text><line x1="1369.40" y1="205.50" x2="1739.50" y2="205.50" stroke="#e4e4e4" stroke-width="1"/><line x1="1373.20" y1="275.40" x2="1735.60" y2="275.40" stroke="#e4e4e4" stroke-width="1"/><text x="1361.80" y="300.00" font-size="9.4" fill="#6d91e4" textLength="50" lengthAdjust="spacingAndGlyphs">Show More</text></svg></div>
<div class="card" style="left:909px;top:339px;width:414.0px;height:254.7px"><svg width="414.0" height="254.7" viewBox="909 339 414.0 254.7"><text x="925.90" y="366.90" font-size="9.4" fill="#505050" font-weight="700" textLength="76.7" lengthAdjust="spacingAndGlyphs">Sales by Country</text><text x="1228.00" y="371.20" font-size="9.4" fill="#6d91e4" textLength="69.9" lengthAdjust="spacingAndGlyphs">View Full Report</text><rect x="922.90" y="438.00" width="170.00" height="90.70" fill="#fbfbfd"/><path d="M923.4,455.7 L930.8,454.7 L941.7,453.7 L947.6,449.8 L957.5,446.8 L966.3,447.8 L971.3,453.7 L975.2,460.6 L977.2,467.6 L973.2,470.5 L969.3,473.5 L965.4,478.4 L962.4,484.3 L959.4,487.3 L961.4,491.2 L958.4,490.2 L954.5,484.3 L949.6,478.4 L944.6,474.5 L941.7,470.5 L936.7,464.6 L929.8,463.6 L923.9,463.6 Z" fill="#efeff7"/><path d="M962.4,490.2 L969.3,491.2 L977.2,494.2 L983.1,498.1 L981.1,504.1 L975.2,510.0 L971.3,515.9 L967.3,521.8 L965.4,517.9 L964.4,510.0 L962.4,502.1 L961.4,495.2 Z" fill="#efeff7"/><path d="M967.3,444.9 L979.2,442.4 L993.0,444.4 L990.0,450.8 L983.1,457.7 L978.2,461.6 L975.2,454.7 L971.3,449.8 Z" fill="#efeff7"/><path d="M995.9,457.7 L1001.9,454.7 L1008.8,452.8 L1016.6,451.8 L1022.6,454.7 L1021.6,462.6 L1014.7,467.6 L1006.8,472.5 L999.9,473.5 L996.9,469.5 L998.9,464.6 Z" fill="#efeff7"/><path d="M993.0,480.4 L999.9,476.4 L1008.8,475.4 L1016.6,476.4 L1022.6,480.4 L1026.5,486.3 L1022.6,490.2 L1020.6,496.2 L1017.6,504.1 L1012.7,510.0 L1008.8,510.0 L1006.8,502.1 L1004.8,494.2 L998.9,490.2 L994.0,487.3 Z" fill="#efeff7"/><path d="M1016.6,451.8 L1026.5,449.8 L1036.4,450.8 L1046.2,449.8 L1056.1,452.8 L1070.9,454.7 L1085.7,457.7 L1087.7,459.7 L1077.8,463.6 L1071.9,466.6 L1066.0,472.5 L1061.0,476.4 L1056.1,478.4 L1054.1,484.3 L1046.2,486.3 L1039.3,488.3 L1036.4,484.3 L1031.4,480.4 L1026.5,480.4 L1022.6,474.5 L1021.6,467.6 L1022.6,462.6 Z" fill="#efeff7"/><path d="M1046.2,490.2 L1056.1,491.2 L1061.0,494.2 L1066.0,496.2 L1060.1,498.1 L1052.2,496.2 Z" fill="#efeff7"/><path d="M1014.7,467.6 L1022.6,461.6 L1027.5,474.5 L1026.5,481.4 L1022.6,480.4 L1016.6,476.4 L1011.7,473.5 Z" fill="#efeff7"/><path d="M1054.1,503.1 L1060.1,500.1 L1067.9,502.1 L1071.9,508.0 L1068.9,512.9 L1062.0,511.9 L1055.1,510.0 Z" fill="#efeff7"/><path d="M1021.6,502.1 L1023.6,503.1 L1021.6,506.0 L1020.6,505.0 Z" fill="#efeff7"/><path d="M1079.8,513.9 L1081.8,512.9 L1079.8,516.9 Z" fill="#efeff7"/><circle cx="949.60" cy="469.00" r="4.90" fill="#f9dcd4" stroke="#f2c0b0" stroke-width="0.8"/><circle cx="1046.00" cy="457.20" r="5.60" fill="#dcd4fb" stroke="#b9aef3" stroke-width="0.8"/><circle cx="1050.20" cy="480.20" r="5.40" fill="#fae6cc" stroke="#f2d4a8" stroke-width="0.8"/><circle cx="1010.70" cy="487.30" r="5.20" fill="#f6c6c8" stroke="#eb8f95" stroke-width="0.8"/><circle cx="1062.00" cy="505.50" r="5.60" fill="#cdeedd" stroke="#9fdcb9" stroke-width="0.8"/><text x="1097.80" y="411.00" font-size="8.1" fill="#4a4a4a" textLength="21.0" lengthAdjust="spacingAndGlyphs">Russia</text><text x="1294.60" y="411.90" font-size="7.2" fill="#8a8a8a" text-anchor="end">$12,567</text><line x1="1099.60" y1="421.30" x2="1304.30" y2="421.30" stroke="#dfe1e8" stroke-width="3"/><line x1="1099.60" y1="421.30" x2="1232.30" y2="421.30" stroke="#9e96ec" stroke-width="3"/><text x="1098.80" y="445.80" font-size="8.1" fill="#4a4a4a" textLength="29.6" lengthAdjust="spacingAndGlyphs">Australia</text><text x="1295.40" y="447.80" font-size="7.2" fill="#8a8a8a" text-anchor="end">$9,324</text><line x1="1099.60" y1="457.10" x2="1304.30" y2="457.10" stroke="#dfe1e8" stroke-width="3"/><line x1="1099.60" y1="457.10" x2="1186.50" y2="457.10" stroke="#5ccf8d" stroke-width="3"/><text x="1098.80" y="483.20" font-size="8.1" fill="#4a4a4a" textLength="23.6" lengthAdjust="spacingAndGlyphs">Algeria</text><text x="1295.40" y="484.60" font-size="7.2" fill="#8a8a8a" text-anchor="end">$10,367</text><line x1="1099.60" y1="494.50" x2="1305.50" y2="494.50" stroke="#dfe1e8" stroke-width="3"/><line x1="1099.60" y1="494.50" x2="1202.60" y2="494.50" stroke="#ee7b6b" stroke-width="3"/><text x="1100.90" y="520.90" font-size="8.1" fill="#4a4a4a" textLength="20.0" lengthAdjust="spacingAndGlyphs">China</text><text x="1296.60" y="521.50" font-size="7.2" fill="#8a8a8a" text-anchor="end">$12,100</text><line x1="1099.60" y1="531.40" x2="1306.30" y2="531.40" stroke="#dfe1e8" stroke-width="3"/><line x1="1099.60" y1="531.40" x2="1233.60" y2="531.40" stroke="#f9d17c" stroke-width="3"/><text x="1099.60" y="557.70" font-size="8.1" fill="#4a4a4a" textLength="47.0" lengthAdjust="spacingAndGlyphs">United States</text><text x="1296.60" y="558.40" font-size="7.2" fill="#8a8a8a" text-anchor="end">$11,480</text><line x1="1099.60" y1="568.50" x2="1306.30" y2="568.50" stroke="#dfe1e8" stroke-width="3"/><line x1="1099.60" y1="568.50" x2="1213.20" y2="568.50" stroke="#d6a898" stroke-width="3"/></svg></div>
<div class="card" style="left:1342px;top:339px;width:414.0px;height:254.6px"><svg width="414.0" height="254.6" viewBox="1342 339 414.0 254.6"><text x="1365.00" y="357.80" font-size="9.4" fill="#505050" font-weight="700" textLength="81.1" lengthAdjust="spacingAndGlyphs">Sales Distribution</text><path d="M1495.20,391.70 A79.3,79.3 0 0 1 1571.58,449.67 L1535.65,459.71 A42,42 0 0 0 1495.20,429.00 Z" fill="#fed680"/><path d="M1571.58,449.67 A79.3,79.3 0 0 1 1540.68,535.96 L1519.29,505.40 A42,42 0 0 0 1535.65,459.71 Z" fill="#fb8372"/><path d="M1540.68,535.96 A79.3,79.3 0 0 1 1417.60,487.35 L1454.10,479.66 A42,42 0 0 0 1519.29,505.40 Z" fill="#58d8fd"/><path d="M1417.60,487.35 A79.3,79.3 0 0 1 1495.20,391.70 L1495.20,429.00 A42,42 0 0 0 1454.10,479.66 Z" fill="#a29ef8"/><circle cx="1638.80" cy="405.00" r="3.80" fill="#a29ef8"/><text x="1648.40" y="406.50" font-size="8.2" fill="#555555" textLength="23.651437499999997" lengthAdjust="spacingAndGlyphs">France</text><circle cx="1638.80" cy="432.20" r="3.80" fill="#58d8fd"/><text x="1648.40" y="433.70" font-size="8.2" fill="#555555" textLength="13.9376875" lengthAdjust="spacingAndGlyphs">Italy</text><circle cx="1638.80" cy="462.70" r="3.80" fill="#fb8372"/><text x="1648.40" y="464.20" font-size="8.2" fill="#555555" textLength="31.251437499999998" lengthAdjust="spacingAndGlyphs">Germany</text><circle cx="1638.80" cy="494.70" r="3.80" fill="#fed680"/><text x="1648.40" y="496.20" font-size="8.2" fill="#555555" textLength="19.436999999999998" lengthAdjust="spacingAndGlyphs">Spain</text></svg></div>
<div class="card" style="left:909px;top:612.7px;width:414.0px;height:251.7px"><svg width="414.0" height="251.7" viewBox="909 612.7 414.0 251.7"><text x="925.00" y="643.80" font-size="9.4" fill="#505050" font-weight="700" textLength="53.9" lengthAdjust="spacingAndGlyphs">Net Income</text><line x1="950.90" y1="660.30" x2="1299.70" y2="660.30" stroke="#eeeeee" stroke-width="1"/><text x="934.50" y="663.90" font-size="10.8" fill="#7a7a7a" textLength="5.3" lengthAdjust="spacingAndGlyphs">8</text><text x="940.00" y="660.70" font-size="9.0" fill="#7a7a7a">k</text><line x1="950.90" y1="702.20" x2="1299.70" y2="702.20" stroke="#eeeeee" stroke-width="1"/><text x="934.50" y="705.80" font-size="10.8" fill="#7a7a7a" textLength="5.3" lengthAdjust="spacingAndGlyphs">6</text><text x="940.00" y="702.60" font-size="9.0" fill="#7a7a7a">k</text><line x1="950.90" y1="743.40" x2="1299.70" y2="743.40" stroke="#eeeeee" stroke-width="1"/><text x="934.50" y="747.00" font-size="10.8" fill="#7a7a7a" textLength="5.3" lengthAdjust="spacingAndGlyphs">4</text><text x="940.00" y="743.80" font-size="9.0" fill="#7a7a7a">k</text><line x1="950.90" y1="784.80" x2="1299.70" y2="784.80" stroke="#eeeeee" stroke-width="1"/><text x="934.50" y="788.40" font-size="10.8" fill="#7a7a7a" textLength="5.3" lengthAdjust="spacingAndGlyphs">2</text><text x="940.00" y="785.20" font-size="9.0" fill="#7a7a7a">k</text><line x1="950.90" y1="826.30" x2="1299.70" y2="826.30" stroke="#eeeeee" stroke-width="1"/><text x="934.50" y="829.90" font-size="10.8" fill="#7a7a7a" textLength="5.3" lengthAdjust="spacingAndGlyphs">0</text><text x="940.00" y="826.70" font-size="9.0" fill="#7a7a7a">k</text><rect x="965.60" y="712.40" width="31.00" height="113.40" fill="#a29ef8"/><text x="980.90" y="845.30" font-size="10.6" fill="#7a7a7a" text-anchor="middle">Jan</text><rect x="1025.10" y="736.80" width="31.00" height="89.00" fill="#a29ef8"/><text x="1040.30" y="845.30" font-size="10.6" fill="#7a7a7a" text-anchor="middle">Feb</text><rect x="1084.80" y="774.20" width="31.00" height="51.60" fill="#a29ef8"/><text x="1100.10" y="845.30" font-size="10.6" fill="#7a7a7a" text-anchor="middle">Mar</text><rect x="1144.10" y="709.80" width="31.00" height="116.00" fill="#a29ef8"/><text x="1159.30" y="845.30" font-size="10.6" fill="#7a7a7a" text-anchor="middle">Apr</text><rect x="1203.80" y="732.70" width="31.00" height="93.10" fill="#a29ef8"/><text x="1219.10" y="845.30" font-size="10.6" fill="#7a7a7a" text-anchor="middle">May</text><rect x="1263.10" y="690.80" width="31.00" height="135.00" fill="#a29ef8"/><text x="1278.30" y="845.30" font-size="10.6" fill="#7a7a7a" text-anchor="middle">June</text></svg></div>
<div class="card" style="left:1342px;top:612.7px;width:414.0px;height:251.7px"><svg width="414.0" height="251.7" viewBox="1342 612.7 414.0 251.7"><text x="1363.00" y="641.80" font-size="9.4" fill="#505050" font-weight="700" textLength="59" lengthAdjust="spacingAndGlyphs">Overall Sales</text><circle cx="1435.90" cy="666.60" r="4.00" fill="#a29ef8"/><text x="1445.60" y="668.00" font-size="8.2" fill="#555555" textLength="23.651437499999997" lengthAdjust="spacingAndGlyphs">France</text><circle cx="1500.70" cy="666.60" r="4.00" fill="#58d8fd"/><text x="1510.40" y="668.00" font-size="8.2" fill="#555555" textLength="13.9376875" lengthAdjust="spacingAndGlyphs">Italy</text><circle cx="1557.70" cy="666.60" r="4.00" fill="#5ee09f"/><text x="1567.60" y="668.00" font-size="8.2" fill="#555555" textLength="25.7604375" lengthAdjust="spacingAndGlyphs">Norway</text><line x1="1425.70" y1="693.50" x2="1683.80" y2="693.50" stroke="#eeeeee" stroke-width="1"/><text x="1415.30" y="696.90" font-size="10.6" fill="#7a7a7a" text-anchor="end">30</text><text x="1415.90" y="694.80" font-size="9.0" fill="#7a7a7a">k</text><line x1="1425.70" y1="711.38" x2="1683.80" y2="711.38" stroke="#eeeeee" stroke-width="1"/><text x="1415.30" y="714.78" font-size="10.6" fill="#7a7a7a" text-anchor="end">25</text><text x="1415.90" y="712.68" font-size="9.0" fill="#7a7a7a">k</text><line x1="1425.70" y1="729.27" x2="1683.80" y2="729.27" stroke="#eeeeee" stroke-width="1"/><text x="1415.30" y="732.67" font-size="10.6" fill="#7a7a7a" text-anchor="end">20</text><text x="1415.90" y="730.57" font-size="9.0" fill="#7a7a7a">k</text><line x1="1425.70" y1="747.15" x2="1683.80" y2="747.15" stroke="#eeeeee" stroke-width="1"/><text x="1415.30" y="750.55" font-size="10.6" fill="#7a7a7a" text-anchor="end">15</text><text x="1415.90" y="748.45" font-size="9.0" fill="#7a7a7a">k</text><line x1="1425.70" y1="765.03" x2="1683.80" y2="765.03" stroke="#eeeeee" stroke-width="1"/><text x="1415.30" y="768.43" font-size="10.6" fill="#7a7a7a" text-anchor="end">10</text><text x="1415.90" y="766.33" font-size="9.0" fill="#7a7a7a">k</text><line x1="1425.70" y1="782.92" x2="1683.80" y2="782.92" stroke="#eeeeee" stroke-width="1"/><text x="1415.30" y="786.32" font-size="10.6" fill="#7a7a7a" text-anchor="end">5</text><text x="1415.90" y="784.22" font-size="9.0" fill="#7a7a7a">k</text><line x1="1425.70" y1="800.80" x2="1683.80" y2="800.80" stroke="#eeeeee" stroke-width="1"/><text x="1415.30" y="804.20" font-size="10.6" fill="#7a7a7a" text-anchor="end">0</text><text x="1415.90" y="802.10" font-size="9.0" fill="#7a7a7a">k</text><rect x="1435.90" y="736.42" width="4.10" height="64.38" fill="#a29ef8"/><rect x="1442.50" y="743.57" width="4.10" height="57.23" fill="#58d8fd"/><rect x="1449.40" y="761.46" width="4.10" height="39.34" fill="#5ee09f"/><text x="1444.30" y="819.60" font-size="10" fill="#7a7a7a" text-anchor="middle">Mon</text><rect x="1472.77" y="750.73" width="4.10" height="50.07" fill="#a29ef8"/><rect x="1479.37" y="754.30" width="4.10" height="46.50" fill="#58d8fd"/><rect x="1486.27" y="768.61" width="4.10" height="32.19" fill="#5ee09f"/><text x="1481.17" y="819.60" font-size="10" fill="#7a7a7a" text-anchor="middle">Tue</text><rect x="1509.64" y="754.30" width="4.10" height="46.50" fill="#a29ef8"/><rect x="1516.24" y="747.15" width="4.10" height="53.65" fill="#58d8fd"/><rect x="1523.14" y="779.34" width="4.10" height="21.46" fill="#5ee09f"/><text x="1518.04" y="819.60" font-size="10" fill="#7a7a7a" text-anchor="middle">Wed</text><rect x="1546.51" y="765.03" width="4.10" height="35.77" fill="#a29ef8"/><rect x="1553.11" y="761.46" width="4.10" height="39.34" fill="#58d8fd"/><rect x="1560.01" y="782.92" width="4.10" height="17.88" fill="#5ee09f"/><text x="1554.91" y="819.60" font-size="10" fill="#7a7a7a" text-anchor="middle">Thu</text><rect x="1583.38" y="736.42" width="4.10" height="64.38" fill="#a29ef8"/><rect x="1589.98" y="732.84" width="4.10" height="67.96" fill="#58d8fd"/><rect x="1596.88" y="768.61" width="4.10" height="32.19" fill="#5ee09f"/><text x="1591.78" y="819.60" font-size="10" fill="#7a7a7a" text-anchor="middle">Fri</text><rect x="1620.25" y="722.11" width="4.10" height="78.69" fill="#a29ef8"/><rect x="1626.85" y="729.27" width="4.10" height="71.53" fill="#58d8fd"/><rect x="1633.75" y="750.73" width="4.10" height="50.07" fill="#5ee09f"/><text x="1628.65" y="819.60" font-size="10" fill="#7a7a7a" text-anchor="middle">Sat</text><rect x="1657.12" y="711.38" width="4.10" height="89.42" fill="#a29ef8"/><rect x="1663.72" y="714.96" width="4.10" height="85.84" fill="#58d8fd"/><rect x="1670.62" y="743.57" width="4.10" height="57.23" fill="#5ee09f"/><text x="1665.52" y="819.60" font-size="10" fill="#7a7a7a" text-anchor="middle">Sun</text></svg></div>

<div class="bar" style="left:0;top:898.1px;width:867px;height:18.6px;background:#c00000"></div>
<div class="bar" style="left:892px;top:897.2px;width:882px;height:18.6px;background:#5ea428"></div>
<div class="verdict" style="left:3.3px;top:928.6px;color:#c00000">Don't</div>
<div class="verdict" style="left:899.6px;top:929.2px;color:#5ea428;letter-spacing:0">Do</div>
<div class="desc" style="left:5.2px;top:976.9px">Presenting a lot of information makes it difficult to scan the dashboard for<br><span style="letter-spacing:0.5px">the user.</span></div>
<div class="desc" style="left:898.2px;top:973.6px;letter-spacing:0.92px">Present information in a simple form with fewer columns.</div>
</body></html>
